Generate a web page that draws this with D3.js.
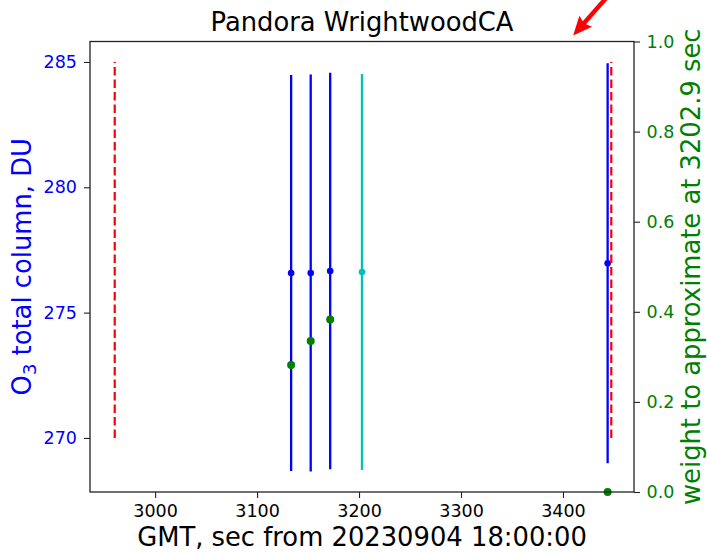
<!DOCTYPE html>
<html>
<head>
<meta charset="utf-8">
<script src="https://cdn.jsdelivr.net/npm/d3@7"></script>
<style>
  body { margin: 0; background: #fff; }
  text { font-family: "DejaVu Sans", sans-serif; }
</style>
</head>
<body>
<svg id="chart" width="707" height="553"></svg>
<script>
// Pandora O3 total column measurements around the target time
const stationName = "Pandora WrightwoodCA";
const measTimes = [3133.4, 3152.6, 3171.7, 3443.8];
const measO3 = [276.58, 276.58, 276.66, 276.97];
const measErr = [7.9, 7.92, 7.91, 7.98];
const measWeights = [0.282, 0.335, 0.383, 0.0];
const targetTime = [3202.9];
const targetO3 = [276.62];
const targetErr = [7.9];
// averaging window edges and the O3 span of their marker lines
const windowTimes = [2960.4, 3445.4];
const windowO3 = [270, 285];
// tick labels
const timeTicks = [3000, 3100, 3200, 3300, 3400];
const o3Ticks = [270, 275, 280, 285];
const weightTicks = [0.0, 0.2, 0.4, 0.6, 0.8, 1.0];

const svg = d3.select("#chart");
const plot = { left: 90, right: 634, top: 41.5, bottom: 492 };

// autoscale with 5% padding on each side
function padded(lo, hi) {
  const m = (hi - lo) * 0.05;
  return [lo - m, hi + m];
}
const allTimes = measTimes.concat(targetTime, windowTimes);
const allO3 = [];
measO3.forEach((v, i) => { allO3.push(v - measErr[i], v + measErr[i]); });
targetO3.forEach((v, i) => { allO3.push(v - targetErr[i], v + targetErr[i]); });
allO3.push(...windowO3);

const x = d3.scaleLinear().domain(padded(d3.min(allTimes), d3.max(allTimes))).range([plot.left, plot.right]);
const y = d3.scaleLinear().domain(padded(d3.min(allO3), d3.max(allO3))).range([plot.bottom, plot.top]);
const yW = d3.scaleLinear().domain([0, 1]).range([plot.bottom, plot.top]);

const BLUE = "#0000ff", GREEN = "#008000", RED = "#ff0000", CYAN = "#00bfbf";
const tickFont = 17.5, labelFont = 25.8;

// axes
function styleAxis(g, color) {
  g.select(".domain").remove();
  g.selectAll(".tick line").attr("stroke", "#222").attr("stroke-width", 1.1);
  g.selectAll(".tick text").attr("fill", color).attr("font-size", tickFont)
    .attr("font-family", "DejaVu Sans, sans-serif");
}
svg.append("g").attr("transform", `translate(0,${plot.bottom})`)
  .call(d3.axisBottom(x).tickValues(timeTicks).tickFormat(d3.format("d")).tickSize(6).tickPadding(7))
  .call(g => styleAxis(g, "#000"));
svg.append("g").attr("transform", `translate(${plot.left},0)`)
  .call(d3.axisLeft(y).tickValues(o3Ticks).tickFormat(d3.format("d")).tickSize(6).tickPadding(7))
  .call(g => styleAxis(g, BLUE));
svg.append("g").attr("transform", `translate(${plot.right},0)`)
  .call(d3.axisRight(yW).tickValues(weightTicks).tickFormat(d3.format(".1f")).tickSize(6).tickPadding(6.5))
  .call(g => styleAxis(g, GREEN));

// measurement error bars and values
const meas = measTimes.map((t, i) => ({ t, v: measO3[i], e: measErr[i], w: measWeights[i] }));
svg.append("g").selectAll("line").data(meas).join("line")
  .attr("x1", d => x(d.t)).attr("x2", d => x(d.t))
  .attr("y1", d => y(d.v - d.e)).attr("y2", d => y(d.v + d.e))
  .attr("stroke", BLUE).attr("stroke-width", 2.3);
svg.append("g").selectAll("circle").data(meas).join("circle")
  .attr("cx", d => x(d.t)).attr("cy", d => y(d.v)).attr("r", 3.3).attr("fill", BLUE);

// interpolated value at the target time
const target = targetTime.map((t, i) => ({ t, v: targetO3[i], e: targetErr[i] }));
svg.append("g").selectAll("line").data(target).join("line")
  .attr("x1", d => x(d.t)).attr("x2", d => x(d.t))
  .attr("y1", d => y(d.v - d.e)).attr("y2", d => y(d.v + d.e))
  .attr("stroke", CYAN).attr("stroke-width", 2.3);
svg.append("g").selectAll("circle").data(target).join("circle")
  .attr("cx", d => x(d.t)).attr("cy", d => y(d.v)).attr("r", 3.3).attr("fill", CYAN);

// window edges
svg.append("g").selectAll("line").data(windowTimes).join("line")
  .attr("x1", d => x(d) + (d > targetTime[0] ? 2 : 0)).attr("x2", d => x(d) + (d > targetTime[0] ? 2 : 0))
  .attr("y1", y(windowO3[0])).attr("y2", y(windowO3[1]))
  .attr("stroke", RED).attr("stroke-width", 2.2).attr("stroke-dasharray", "8.5,4");

// weights on the right axis
svg.append("g").selectAll("circle").data(meas).join("circle")
  .attr("cx", d => x(d.t)).attr("cy", d => yW(d.w)).attr("r", 4).attr("fill", GREEN);

// frame
svg.append("rect")
  .attr("x", plot.left).attr("y", plot.top)
  .attr("width", plot.right - plot.left).attr("height", plot.bottom - plot.top)
  .attr("fill", "none").attr("stroke", "#222").attr("stroke-width", 1.3);

// title and axis labels
svg.append("text").attr("x", (plot.left + plot.right) / 2).attr("y", 31)
  .attr("text-anchor", "middle").attr("font-size", labelFont).attr("fill", "#000")
  .text(stationName);
svg.append("text").attr("x", (plot.left + plot.right) / 2).attr("y", 546)
  .attr("text-anchor", "middle").attr("font-size", labelFont).attr("fill", "#000")
  .text("GMT, sec from 20230904 18:00:00");

const yMid = (plot.top + plot.bottom) / 2;
const o3Label = svg.append("text")
  .attr("transform", `translate(31,${yMid}) rotate(-90)`)
  .attr("text-anchor", "middle").attr("font-size", labelFont).attr("fill", BLUE);
o3Label.append("tspan").text("O");
o3Label.append("tspan").attr("font-size", 18).attr("dy", 5).text("3");
o3Label.append("tspan").attr("dy", -5).text(" total column, DU");

svg.append("text")
  .attr("transform", `translate(700,${yMid}) rotate(-90)`)
  .attr("text-anchor", "middle").attr("font-size", labelFont).attr("fill", GREEN)
  .text(`weight to approximate at ${targetTime[0]} sec`);

// pointer arrow above the frame
const tip = [x(3410), plot.top - 6];
const u = [0.66, -0.75], n = [0.75, 0.66];
const pt = (a, b) => [tip[0] + u[0] * a + n[0] * b, tip[1] + u[1] * a + n[1] * b];
const arrowPts = [pt(0, 0), pt(19, 8.5), pt(17, 2.2), pt(90, 2.2), pt(90, -2.2), pt(17, -2.2), pt(19, -8.5)];
svg.append("path").attr("d", d3.line()(arrowPts) + "Z").attr("fill", RED);
</script>
</body>
</html>
